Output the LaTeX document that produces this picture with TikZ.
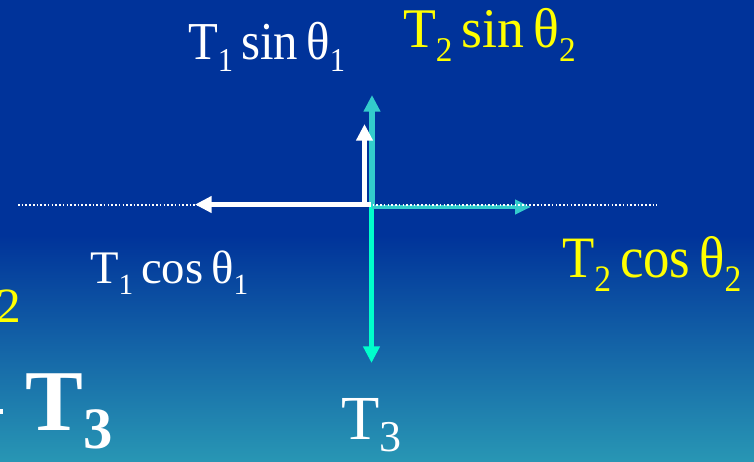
\documentclass[tikz,border=0pt]{standalone}
\usepackage{fontspec}
\setmainfont{Liberation Serif}
\usetikzlibrary{arrows.meta}
\definecolor{bgtop}{HTML}{00339A}
\definecolor{bgbot}{HTML}{2896B4}
\definecolor{cyanarr}{HTML}{33CCCC}
\definecolor{aquaarr}{HTML}{00FFCC}
\definecolor{yel}{HTML}{FFFF00}
\newcommand\subtx[3]{\raisebox{-#2}{\fontsize{#1}{#1}\selectfont #3}}
\newcommand\wsp{\hspace{0.17em}}
\begin{document}
\begin{tikzpicture}[x=0.75pt,y=-0.75pt,
  lbl/.style={anchor=base west,inner sep=0pt,outer sep=0pt},
  forcearrow/.style={line width=#1,-{Triangle[length=12.5pt,width=12pt]}},
  forcearrow/.default=3.75pt,
  dotline/.style={white,line width=1.3pt,dash pattern=on 1.2pt off 1.6pt}]
\useasboundingbox (0,0) rectangle (754,461);
\fill[bgtop] (0,0) rectangle (754,236);
\shade[top color=bgtop,bottom color=bgbot] (0,235) rectangle (754,461);

% coordinates
\coordinate (cyo) at (372,207);
\coordinate (cyu) at (372,95);
\coordinate (aqo) at (371.5,205);
\coordinate (aqd) at (371.5,363);
\coordinate (cyr) at (531,207);
\coordinate (wo) at (371,204.5);
\coordinate (wl) at (195,204.5);
\coordinate (wvo) at (364.5,206);
\coordinate (wu) at (364.5,124);
\coordinate (dl) at (18,205);
\coordinate (dr) at (657,205);

\draw[forcearrow=4.5pt,cyanarr] (cyo) -- (cyu);
\draw[forcearrow=3.4pt,aquaarr] (aqo) -- (aqd);
\draw[forcearrow=3.4pt,cyanarr,-{Triangle[length=12pt,width=10.5pt]}] (cyo) -- (cyr);
\draw[dotline] (dl) -- (dr);
\draw[forcearrow,white] (wo) -- (wl);
\draw[forcearrow,white] (wvo) -- (wu);

% labels
\node[lbl,white] (t1s) at (188,59) {\scalebox{0.915}[1]{\fontsize{40pt}{40pt}\selectfont T\subtx{25pt}{9.5pt}{1}\wsp sin\wsp θ\subtx{25pt}{9.5pt}{1}}};
\node[lbl,yel] (t2s) at (403,47) {\scalebox{0.96}[1]{\fontsize{42pt}{42pt}\selectfont T\subtx{26pt}{11pt}{2}\wsp sin\wsp θ\subtx{26pt}{11pt}{2}}};
\node[lbl,white] (t1c) at (90,283) {\scalebox{1.0}[1]{\fontsize{35pt}{35pt}\selectfont T\subtx{22pt}{8.5pt}{1}\wsp cos\wsp θ\subtx{22pt}{8.5pt}{1}}};
\node[lbl,yel] (t2c) at (562,277) {\scalebox{0.9}[1]{\fontsize{44pt}{44pt}\selectfont T\subtx{28pt}{10.5pt}{2}\wsp cos\wsp θ\subtx{28pt}{10.5pt}{2}}};
\node[lbl,white] (t3) at (341,439) {\fontsize{47pt}{47pt}\selectfont T\subtx{33pt}{9pt}{3}};
\node[lbl,white] (t3b) at (26,430) {\fontsize{65pt}{65pt}\selectfont\bfseries T\subtx{44pt}{14pt}{3}};
\node[anchor=base east,inner sep=0pt,yel] (two) at (21,322) {\fontsize{37pt}{37pt}\selectfont 2};
\fill[white] (0,409) rectangle (2.5,413.5);
\end{tikzpicture}
\end{document}
